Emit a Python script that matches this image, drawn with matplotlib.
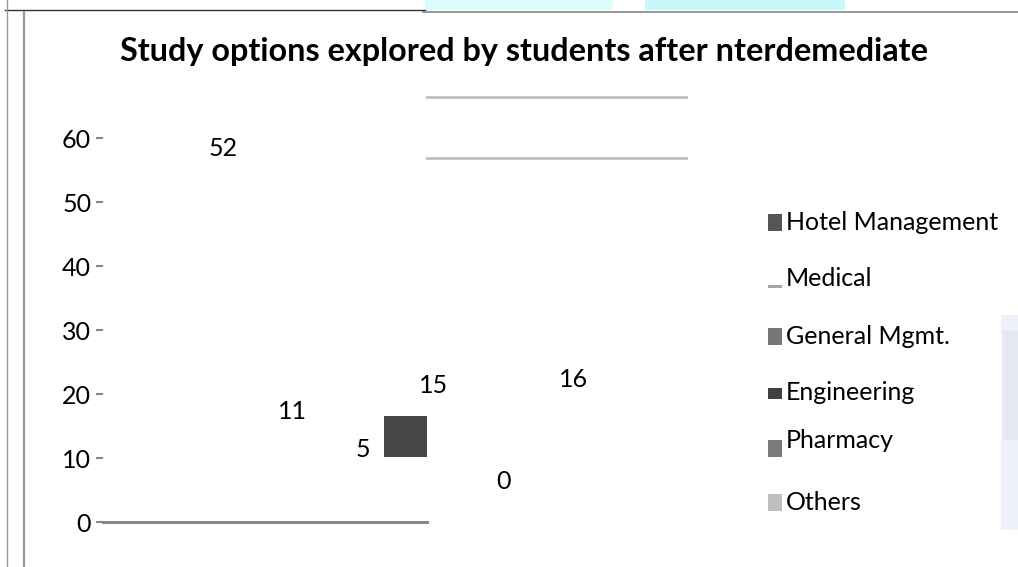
import matplotlib
matplotlib.use("Agg")
import matplotlib.pyplot as plt
from matplotlib.patches import Rectangle
from matplotlib.lines import Line2D

# ---- data ----
categories = ["Hotel Management", "Medical", "General Mgmt.", "Engineering", "Pharmacy", "Others"]
values = [52, 11, 5, 15, 0, 16]
yticks = [0, 10, 20, 30, 40, 50, 60]
title = "Study options explored by students after nterdemediate"

legend_colors = ["#555555", "#a6a6a6", "#777777", "#404040", "#7a7a7a", "#bfbfbf"]

FONT = "Lato"
FS = 18
W, H = 1018, 567
fig = plt.figure(figsize=(W / 100, H / 100), dpi=100)
fig.patch.set_facecolor("white")

def fx(px):
    return px / W

def fy(py):
    return 1 - py / H

# page artefacts: frame lines and cyan background strips
fig.add_artist(Rectangle((fx(425), fy(10)), fx(188), 10 / H, transform=fig.transFigure,
                         facecolor="#dcfbfd", edgecolor="none", zorder=0))
fig.add_artist(Rectangle((fx(645), fy(10)), fx(200), 10 / H, transform=fig.transFigure,
                         facecolor="#c9f8fc", edgecolor="none", zorder=0))
fig.add_artist(Rectangle((fx(1001), fy(530)), fx(17), 215 / H, transform=fig.transFigure,
                         facecolor="#eef1f8", edgecolor="none", zorder=0))
fig.add_artist(Rectangle((fx(1003), fy(440)), fx(15), 110 / H, transform=fig.transFigure,
                         facecolor="#e3e8f3", edgecolor="none", zorder=0))
fig.add_artist(Line2D([fx(5), fx(425)], [fy(10), fy(10)], transform=fig.transFigure,
                      color="#333333", lw=1.0))
fig.add_artist(Line2D([fx(423), fx(1018)], [fy(11.5), fy(11.5)], transform=fig.transFigure,
                      color="#888888", lw=1.2))
fig.add_artist(Line2D([fx(7), fx(7)], [fy(0), fy(567)], transform=fig.transFigure,
                      color="#999999", lw=1.0))
fig.add_artist(Line2D([fx(24), fx(24)], [fy(12), fy(567)], transform=fig.transFigure,
                      color="#999999", lw=1.6))

# ---- axes ----
ax_left, ax_right = 103, 693
ax_bottom, ax_top = 522, 138
ax = fig.add_axes([fx(ax_left), fy(ax_bottom), fx(ax_right - ax_left), (ax_bottom - ax_top) / H])
ax.set_facecolor("none")
x = list(range(len(categories)))
ax.set_xlim(-1.71, 6.71)
ax.set_ylim(0, 60)

# bars (rendered blank as in the reference)
ax.bar(x, values, width=1.0, color="white", edgecolor="none", zorder=1)

# data labels
for xi, v in zip(x, values):
    ax.text(xi, v + 6.3, str(v), ha="center", va="center", fontsize=FS,
            family=FONT, color="black", zorder=5)

# visible fragment of the Engineering bar
eng = categories.index("Engineering")
ax.bar(eng - 0.39, 6.5, bottom=10.1, width=0.615, color="#474747", zorder=3)

# baseline and stray gridline fragments
ax.plot([-1.71, 2.914], [0, 0], color="#888888", lw=2.2, clip_on=False, zorder=4)
ax.plot([2.914, 6.614], [66.4, 66.4], color="#c0c0c0", lw=2.0, clip_on=False)
ax.plot([2.914, 6.614], [56.9, 56.9], color="#c0c0c0", lw=2.0, clip_on=False)

for s in ax.spines.values():
    s.set_visible(False)
ax.set_xticks([])
ax.set_yticks(yticks)
ax.set_yticklabels([str(t) for t in yticks], family=FONT, fontsize=FS)
ax.tick_params(axis="y", direction="out", length=5, width=1.5, color="#888888", pad=3.5)

# title
fig.text(fx(524), fy(52), title, ha="center", va="center", fontsize=23.3,
         fontweight="bold", family=FONT)

# legend (drawn manually to match layout)
leg_text_y = [222, 279, 336, 393, 441, 502]
for i, (lab, col) in enumerate(zip(categories, legend_colors)):
    ty = leg_text_y[i]
    if lab == "Medical":
        fig.add_artist(Rectangle((fx(768), fy(288)), fx(14), 3 / H, transform=fig.transFigure,
                                 facecolor=col, edgecolor="none"))
    elif lab == "Engineering":
        fig.add_artist(Rectangle((fx(768), fy(399)), fx(14), 11 / H, transform=fig.transFigure,
                                 facecolor=col, edgecolor="none"))
    elif lab == "Pharmacy":
        fig.add_artist(Rectangle((fx(768), fy(457)), fx(14), 17 / H, transform=fig.transFigure,
                                 facecolor=col, edgecolor="none"))
    else:
        fig.add_artist(Rectangle((fx(768), fy(ty + 9)), fx(14), 17 / H, transform=fig.transFigure,
                                 facecolor=col, edgecolor="none"))
    fig.text(fx(786), fy(ty), lab, ha="left", va="center", fontsize=FS, family=FONT)

fig.savefig("out.png", dpi=100, facecolor="white")
